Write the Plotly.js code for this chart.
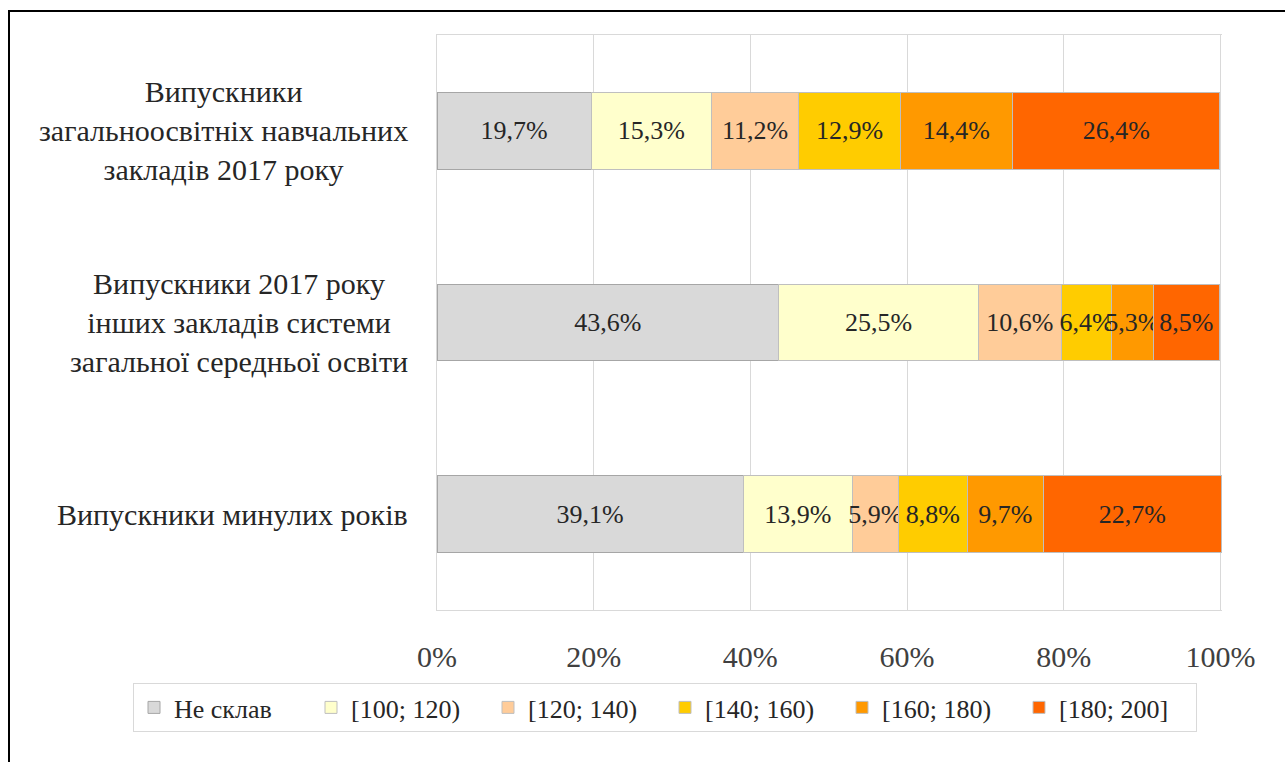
<!DOCTYPE html>
<html>
<head>
<meta charset="utf-8">
<script src="https://cdn.plot.ly/plotly-3.0.1.min.js"></script>
<style>
  body { margin: 0; background: #fff; }
  #frame { position: absolute; left: 8px; top: 10px; right: 0; bottom: 0;
           border-top: 2px solid #000; border-left: 2px solid #000; pointer-events: none; }
</style>
</head>
<body>
<div id="myPlot" style="width:1285px;height:762px;"></div>
<div id="frame"></div>
<script>
// categories, top to bottom
const categories = [
    'Випускники<br>загальноосвітніх навчальних<br>закладів 2017 року',
    'Випускники 2017 року<br>інших закладів системи<br>загальної середньої освіти',
    'Випускники минулих років'
];

const seriesNames = ['Не склав', '[100; 120)', '[120; 140)', '[140; 160)', '[160; 180)', '[180; 200]'];
const seriesColors = ['#d9d9d9', '#ffffcc', '#ffcc99', '#ffcc00', '#ff9900', '#ff6600'];

// share of graduates (%) per score band, one row per category
const notPassed = [19.7, 43.6, 39.1];
const band100 = [15.3, 25.5, 13.9];
const band120 = [11.2, 10.6, 5.9];
const band140 = [12.9, 6.4, 8.8];
const band160 = [14.4, 5.3, 9.7];
const band180 = [26.4, 8.5, 22.7];

const seriesValues = [notPassed, band100, band120, band140, band160, band180];

// 19.7 -> "19,7%"
function fmt(v) {
    return v.toFixed(1).replace('.', ',') + '%';
}

const font = '"Liberation Serif", "Times New Roman", serif';

const traces = seriesValues.map((vals, i) => ({
    type: 'bar',
    orientation: 'h',
    name: seriesNames[i],
    x: vals,
    y: categories,
    text: vals.map(fmt),
    textposition: 'inside',
    insidetextanchor: 'middle',
    textangle: 0,
    constraintext: 'none',
    cliponaxis: false,
    textfont: {family: font, size: 26, color: '#262626'},
    marker: {
        color: seriesColors[i],
        line: {color: i === 0 ? '#a6a6a6' : '#bfbfbf', width: 1}
    },
    hoverinfo: 'skip'
}));

const annotations = categories.map(c => ({
    x: 0, xref: 'paper', xanchor: 'right', xshift: -27,
    y: c, yref: 'y', yanchor: 'middle',
    text: c, align: 'center', showarrow: false,
    font: {family: font, size: 30, color: '#262626'}
}));

const layout = {
    width: 1285,
    height: 762,
    barmode: 'stack',
    bargap: 0.6,
    paper_bgcolor: '#fff',
    plot_bgcolor: '#fff',
    margin: {l: 437, r: 63, t: 35, b: 152},
    xaxis: {
        range: [0, 100.2],
        tickvals: [0, 20, 40, 60, 80, 100],
        ticktext: ['0%', '20%', '40%', '60%', '80%', '100%'],
        showgrid: true,
        gridcolor: '#d9d9d9',
        showline: true,
        mirror: true,
        linecolor: '#d9d9d9',
        zeroline: false,
        ticks: '',
        ticklabelstandoff: 20,
        tickfont: {family: font, size: 30, color: '#404040'},
        fixedrange: true
    },
    yaxis: {
        autorange: 'reversed',
        showticklabels: false,
        showline: true,
        mirror: false,
        linecolor: '#d9d9d9',
        showgrid: false,
        fixedrange: true
    },
    annotations: annotations,
    showlegend: true,
    legend: {
        orientation: 'h',
        traceorder: 'normal',
        xref: 'paper', yref: 'paper',
        x: (133 - 437) / 785, xanchor: 'left',
        y: (610 - 683) / 575, yanchor: 'top',
        bordercolor: '#d9d9d9',
        borderwidth: 1,
        itemwidth: 30,
        entrywidth: 132,
        entrywidthmode: 'pixels',
        font: {family: font, size: 26, color: '#262626'}
    }
};

Plotly.newPlot('myPlot', traces, layout, {displayModeBar: false, staticPlot: true});
</script>
</body>
</html>
